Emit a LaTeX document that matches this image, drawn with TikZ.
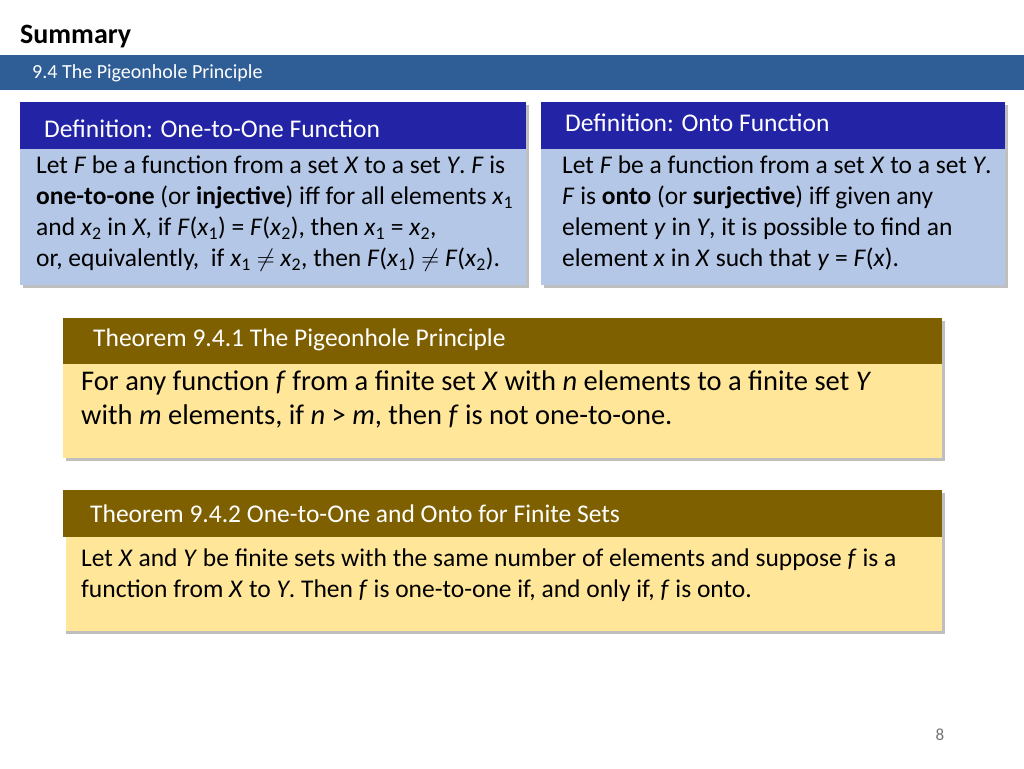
\documentclass[tikz,border=0pt]{standalone}
\usepackage{fontspec}
\setmainfont{Carlito}
\newcommand{\subi}[1]{\textsubscript{#1}}
\definecolor{barblue}{HTML}{2F5D96}
\definecolor{hdrblue}{HTML}{2323A6}
\definecolor{bodyblue}{HTML}{B4C7E7}
\definecolor{hdrbrown}{HTML}{7F6000}
\definecolor{bodyyel}{HTML}{FFE699}
\tikzset{
  shadowbox/.style={fill=black!25},
  hdrtext/.style={anchor=west,text=white,inner sep=0pt,font=\fontsize{25.5}{28}\selectfont},
  bodytext/.style={anchor=north west,inner sep=0pt,align=left,font=\fontsize{25.5}{31}\selectfont},
}
\begin{document}
\begin{tikzpicture}[x=1pt,y=-1pt]
\useasboundingbox (0,0) rectangle (1024,768);
\fill[white] (0,0) rectangle (1024,768);
\node[anchor=west,inner sep=0pt,font=\bfseries\fontsize{28}{32}\selectfont] (title) at (20,37) {Summary};
\fill[barblue] (0,55) rectangle (1024,90);
\node[anchor=west,inner sep=0pt,text=white,font=\fontsize{20}{24}\selectfont] (sub) at (32,73) {9.4 The Pigeonhole Principle};
% box 1
\fill[shadowbox] (23,105) rectangle (529,288);
\fill[hdrblue] (20,102) rectangle (526,149);
\fill[bodyblue] (20,149) rectangle (526,285);
\node[hdrtext] (h1) at (44,129) {Definition: One-to-One Function};
\node[bodytext] (b1) at (36,156) {Let \textit{F} be a function from a set \textit{X} to a set \textit{Y}. \textit{F} is\\
\textbf{one-to-one} (or \textbf{injective}) iff for all elements \textit{x}\subi{1}\\
and \textit{x}\subi{2} in \textit{X}, if \textit{F}(\textit{x}\subi{1}) = \textit{F}(\textit{x}\subi{2}), then \textit{x}\subi{1} = \textit{x}\subi{2},\\
or, equivalently,\ \ if \textit{x}\subi{1} $\neq$ \textit{x}\subi{2}, then \textit{F}(\textit{x}\subi{1}) $\neq$ \textit{F}(\textit{x}\subi{2}).};
% box 2
\fill[shadowbox] (544,105) rectangle (1008,288);
\fill[hdrblue] (541,102) rectangle (1005,149);
\fill[bodyblue] (541,149) rectangle (1005,285);
\node[hdrtext] (h2) at (565,123) {Definition: Onto Function};
\node[bodytext] (b2) at (562,156) {Let \textit{F} be a function from a set \textit{X} to a set \textit{Y}.\\
\textit{F} is \textbf{onto} (or \textbf{surjective}) iff given any\\
element \textit{y} in \textit{Y}, it is possible to find an\\
element \textit{x} in \textit{X} such that \textit{y} = \textit{F}(\textit{x}).};
% theorem 1
\fill[shadowbox] (66,321) rectangle (945,461);
\fill[hdrbrown] (63,318) rectangle (942,364);
\fill[bodyyel] (63,364) rectangle (942,458);
\node[hdrtext] (h3) at (93,340) {Theorem 9.4.1 The Pigeonhole Principle};
\node[bodytext,font=\fontsize{28.5}{34}\selectfont] (b3) at (81,371) {For any function \textit{f} from a finite set \textit{X} with \textit{n} elements to a finite set \textit{Y}\\
with \textit{m} elements, if \textit{n} > \textit{m}, then \textit{f} is not one-to-one.};
% theorem 2
\fill[shadowbox] (66,493) rectangle (945,634);
\fill[hdrbrown] (63,490) rectangle (942,537);
\fill[bodyyel] (66,537) rectangle (942,631);
\node[hdrtext] (h4) at (90,514) {Theorem 9.4.2 One-to-One and Onto for Finite Sets};
\node[bodytext] (b4) at (81,549) {Let \textit{X} and \textit{Y} be finite sets with the same number of elements and suppose \textit{f} is a\\
function from \textit{X} to \textit{Y}. Then \textit{f} is one-to-one if, and only if, \textit{f} is onto.};
\node[text=black!55,inner sep=0pt,font=\fontsize{17}{20}\selectfont] (pg) at (940,735) {8};
\end{tikzpicture}
\end{document}
